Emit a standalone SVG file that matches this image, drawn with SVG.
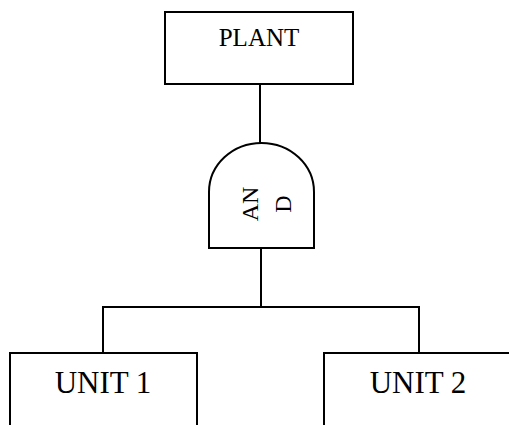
<svg xmlns="http://www.w3.org/2000/svg" width="509" height="425" viewBox="0 0 509 425">
  <style>
    .shape { fill: #ffffff; stroke: #000000; stroke-width: 2; }
    .wire { fill: none; stroke: #000000; stroke-width: 2; }
    .label { font-family: "Liberation Serif", "Times New Roman", serif; fill: #000000; text-anchor: middle; }
  </style>
  <rect width="509" height="425" fill="#ffffff"/>

  <!-- connectors -->
  <g id="connectors">
    <line class="wire" x1="260" y1="84" x2="260" y2="143"/>
    <line class="wire" x1="261" y1="248" x2="261" y2="307"/>
    <polyline class="wire" points="103,353 103,307 419,307 419,353"/>
  </g>

  <!-- top event -->
  <g id="plant">
    <rect class="shape" x="165" y="12" width="188" height="72"/>
    <text class="label" x="259" y="46" font-size="25">PLANT</text>
  </g>

  <!-- AND gate -->
  <g id="and-gate">
    <path class="shape" d="M209,248 L209,192 A52.5,49 0 0 1 314,192 L314,248 Z"/>
    <g transform="translate(258,204) rotate(-90)">
      <text class="label" x="0" y="0" font-size="24">AN</text>
      <text class="label" x="0" y="33" font-size="24">D</text>
    </g>
  </g>

  <!-- basic events -->
  <g id="unit1">
    <rect class="shape" x="10" y="353" width="187" height="90"/>
    <text class="label" x="103" y="393" font-size="31">UNIT 1</text>
  </g>
  <g id="unit2">
    <rect class="shape" x="324" y="353" width="200" height="90"/>
    <text class="label" x="418" y="393" font-size="31">UNIT 2</text>
  </g>
</svg>
